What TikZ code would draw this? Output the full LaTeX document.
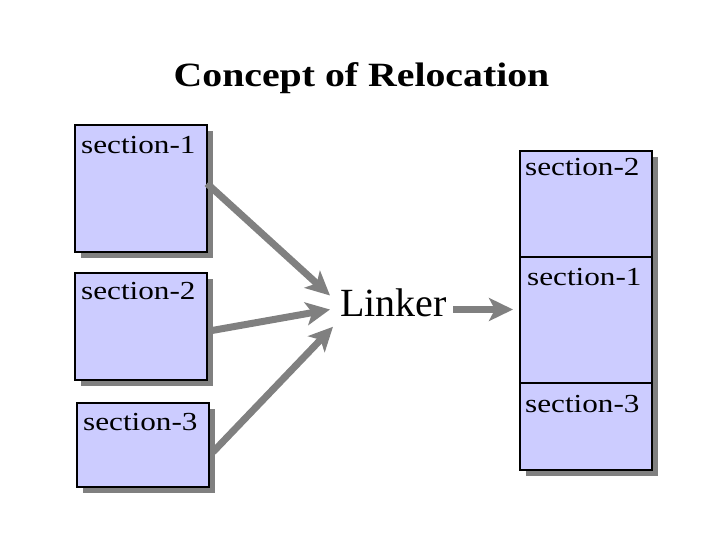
\documentclass[tikz,border=0pt]{standalone}
\usepackage{fontspec}
\setmainfont{Liberation Serif}
\newfontfamily\sectfont[FakeStretch=1.2]{Liberation Serif}
\newfontfamily\headfont[FakeStretch=1.17]{Liberation Serif}
\usetikzlibrary{positioning,shadows,arrows.meta}
\definecolor{boxfill}{RGB}{204,204,255}
\definecolor{shadegray}{RGB}{128,128,128}
\tikzset{
  secbox/.style={draw=black, line width=1.5pt, fill=boxfill, rectangle, outer sep=0pt, inner sep=0pt, minimum width=132pt,
    drop shadow={shadow xshift=6pt, shadow yshift=-6pt, fill=shadegray, opacity=1}},
  sectxt/.style={anchor=north west, inner xsep=6pt, inner ysep=11pt, font=\sectfont\fontsize{26}{28}\selectfont},
  linkarrow/.style={draw=shadegray, line width=7pt, -{Stealth[length=24pt, width=23pt, inset=6pt]}}
}
\begin{document}
\begin{tikzpicture}[x=10pt,y=-10pt]
\useasboundingbox (0,0) rectangle (72,54);
\node[font=\headfont\bfseries\fontsize{34}{36}\selectfont] (title) at (36.15,7.8) {Concept of Relocation};
\begin{scope}
\node[secbox, anchor=north west, minimum height=127pt] (s1) at (7.5,12.5) {};
\node[secbox, anchor=north west, minimum height=107pt] (s2) at (7.5,27.3) {};
\node[secbox, anchor=north west, minimum height=84pt] (s3) at (7.7,40.3) {};
\node[sectxt] (s1t) at (s1.north west) {section-1};
\node[sectxt, inner ysep=9pt] (s2t) at (s2.north west) {section-2};
\node[sectxt, inner ysep=10pt] (s3t) at (s3.north west) {section-3};
\end{scope}
\node[font=\fontsize{40}{42}\selectfont, inner sep=10pt] (linker) at (39.35,30.25) {Linker};
\begin{scope}
\node[secbox, anchor=north west, minimum height=106pt] (r2) at (52,15.1) {};
\node[secbox, minimum height=126pt, below=0pt of r2] (r1) {};
\node[secbox, minimum height=87pt, below=0pt of r1] (r3) {};
\node[sectxt, inner xsep=5pt, inner ysep=7pt] (r2t) at (r2.north west) {section-2};
\node[sectxt, inner xsep=7pt] (r1t) at (r1.north west) {section-1};
\node[sectxt, inner xsep=5pt, inner ysep=12pt] (r3t) at (r3.north west) {section-3};
\end{scope}
\draw[linkarrow] ([yshift=5pt]s1.east) -- ([yshift=7pt]linker.west);
\draw[linkarrow] ([xshift=5pt, yshift=-4pt]s2.east) -- ([yshift=-7pt]linker.west);
\draw[linkarrow] ([xshift=4pt, yshift=-7pt]s3.east) -- ([xshift=3pt]linker.south west);
\draw[linkarrow, shorten >=7pt] ([xshift=-4pt, yshift=-7pt]linker.east) -- ([yshift=-7pt]linker.east -| r1.west);
\end{tikzpicture}
\end{document}
